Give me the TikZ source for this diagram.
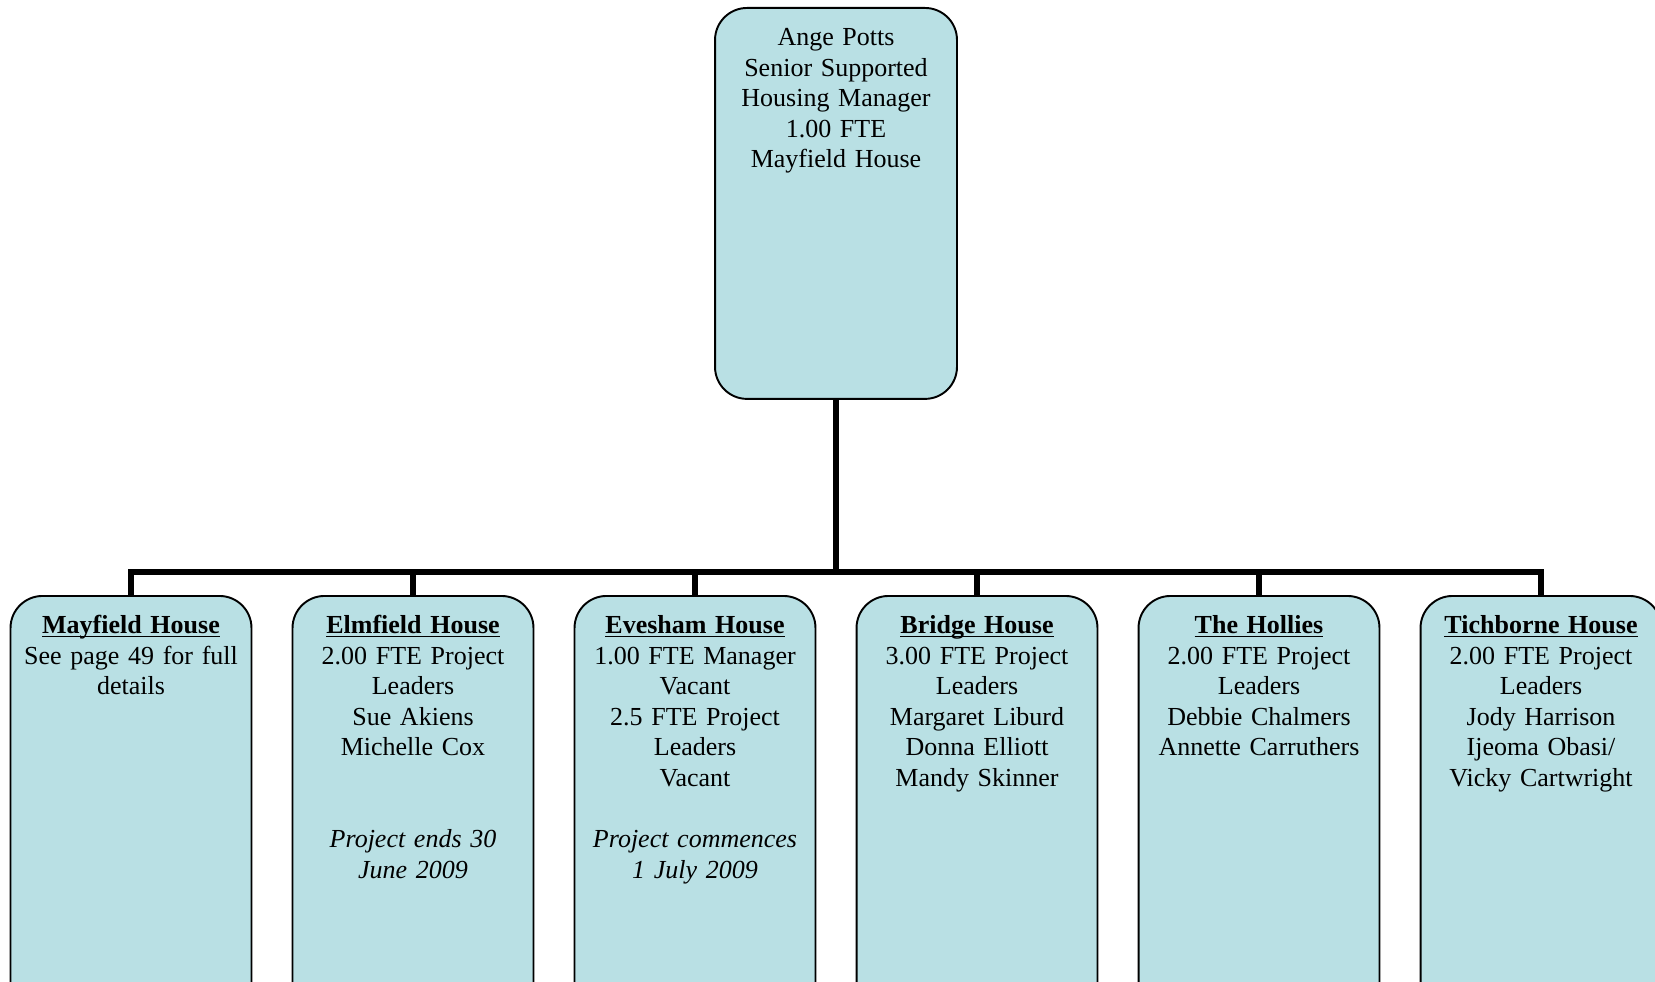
\documentclass[tikz,border=0pt]{standalone}
\usepackage{fontspec}
\setmainfont{Liberation Serif}
\usetikzlibrary{positioning}
\definecolor{boxfill}{RGB}{185,224,228}
\tikzstyle{orgbox}=[draw=black,fill=boxfill,line width=1.1pt,rounded corners=0.64cm,anchor=north,align=center,inner xsep=0pt,inner ysep=0pt,text height=0.75cm,font=\fontsize{14.8}{17.4}\selectfont]
\tikzstyle{bossbox}=[orgbox,minimum width=4.84cm,text width=4.84cm,text depth=7.07cm]
\tikzstyle{unitbox}=[orgbox,minimum width=4.82cm,text width=4.82cm,text depth=7.9cm]
\tikzstyle{conn}=[line width=3.8pt]
\newcommand{\house}[1]{\underline{\smash{\textbf{#1}}}}

\begin{document}
\begin{tikzpicture}[x=0.02cm,y=-0.02cm]
\clip (0,0) rectangle (1655,982);
\node[bossbox] (boss) at (836,7) {Ange Potts\\Senior Supported\\Housing Manager\\1.00 FTE\\Mayfield House};
\coordinate (bar) at (836,572);
% the six houses
\node[unitbox] (mayfield) at (131,595) {\house{Mayfield House}\\See page 49 for full\\details};
\node[unitbox] (elmfield) at (413,595) {\house{Elmfield House}\\2.00 FTE Project\\Leaders\\Sue Akiens\\Michelle Cox\\[34.8pt]\textit{Project ends 30}\\\textit{June 2009}};
\node[unitbox] (evesham) at (695,595) {\house{Evesham House}\\1.00 FTE Manager\\Vacant\\2.5 FTE Project\\Leaders\\Vacant\\[17.4pt]\textit{Project commences}\\\textit{1 July 2009}};
\node[unitbox] (bridge) at (977,595) {\house{Bridge House}\\3.00 FTE Project\\Leaders\\Margaret Liburd\\Donna Elliott\\Mandy Skinner};
\node[unitbox] (hollies) at (1259,595) {\house{The Hollies}\\2.00 FTE Project\\Leaders\\Debbie Chalmers\\Annette Carruthers};
\node[unitbox] (tichborne) at (1541,595) {\house{Tichborne House}\\2.00 FTE Project\\Leaders\\Jody Harrison\\Ijeoma Obasi/\\Vicky Cartwright};
% connectors
\draw[conn] (boss.south) -- (bar);
\draw[conn] (mayfield.north) -- (mayfield.north |- bar) -- (tichborne.north |- bar) -- (tichborne.north);
\draw[conn] (elmfield.north) -- (elmfield.north |- bar);
\draw[conn] (evesham.north) -- (evesham.north |- bar);
\draw[conn] (bridge.north) -- (bridge.north |- bar);
\draw[conn] (hollies.north) -- (hollies.north |- bar);
\end{tikzpicture}
\end{document}
